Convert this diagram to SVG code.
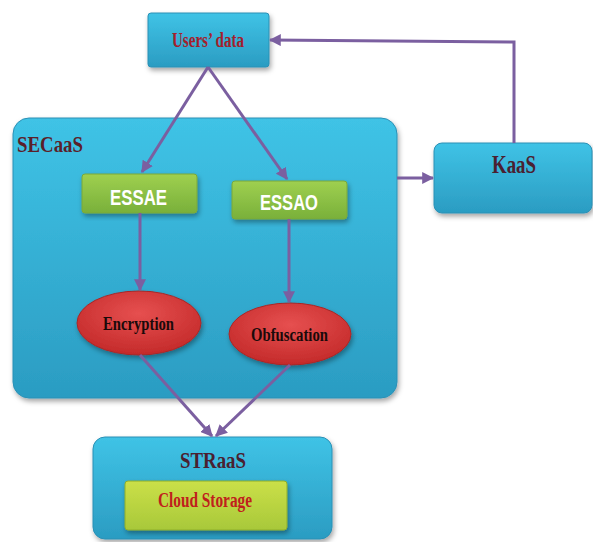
<svg xmlns="http://www.w3.org/2000/svg" width="593" height="542" viewBox="0 0 593 542">
  <style>
    .blue { fill: url(#gBlue); stroke: #2a90b5; stroke-width: 1; filter: url(#shadow); }
    .green { fill: url(#gGreen); stroke: #7aa83a; stroke-width: 1; filter: url(#shadow); }
    .lime { fill: url(#gLime); stroke: #8fae2a; stroke-width: 1; filter: url(#shadow); }
    .red { fill: url(#gRed); stroke: #a82828; stroke-width: 1; filter: url(#shadow); }
    .serif { font-family: "Liberation Serif", "Times New Roman", serif; font-weight: bold; }
    .sans { font-family: "Liberation Sans", Arial, sans-serif; font-weight: bold; fill: #ffffff; }
    .conn { fill: none; stroke: #7b5fa0; stroke-width: 3; marker-end: url(#arrow); }
  </style>
  <defs>
    <linearGradient id="gBlue" x1="0" y1="0" x2="0" y2="1">
      <stop offset="0" stop-color="#3fc3e6"/>
      <stop offset="1" stop-color="#2b9cc2"/>
    </linearGradient>
    <linearGradient id="gGreen" x1="0" y1="0" x2="0" y2="1">
      <stop offset="0" stop-color="#9fd050"/>
      <stop offset="1" stop-color="#79b03a"/>
    </linearGradient>
    <linearGradient id="gLime" x1="0" y1="0" x2="0" y2="1">
      <stop offset="0" stop-color="#cbe048"/>
      <stop offset="1" stop-color="#a8c83a"/>
    </linearGradient>
    <radialGradient id="gRed" cx="0.5" cy="0.35" r="0.65">
      <stop offset="0" stop-color="#e65050"/>
      <stop offset="1" stop-color="#c42a2a"/>
    </radialGradient>
    <filter id="shadow" x="-10%" y="-10%" width="125%" height="130%">
      <feDropShadow dx="1.5" dy="3" stdDeviation="2.5" flood-color="#000" flood-opacity="0.35"/>
    </filter>
    <marker id="arrow" viewBox="0 0 10 10" refX="9" refY="5" markerWidth="4" markerHeight="4" orient="auto" markerUnits="strokeWidth">
      <path d="M0,0 L10,5 L0,10 z" fill="#7b5fa0"/>
    </marker>
  </defs>

  <g id="secaas">
    <rect class="blue" x="13" y="118" width="384" height="280" rx="16"/>
    <text class="serif" x="17" y="152" font-size="24" fill="#5a1f2a" textLength="66" lengthAdjust="spacingAndGlyphs">SECaaS</text>
  </g>

  <g id="users-data">
    <rect class="blue" x="148" y="13" width="121" height="54" rx="3"/>
    <text class="serif" x="172" y="47" font-size="20" fill="#a3202c" textLength="72" lengthAdjust="spacingAndGlyphs">Users’ data</text>
  </g>

  <g id="kaas">
    <rect class="blue" x="434" y="143" width="158" height="70" rx="8"/>
    <text class="serif" x="492" y="173" font-size="26" fill="#4a2030" textLength="44" lengthAdjust="spacingAndGlyphs">KaaS</text>
  </g>

  <g id="essae">
    <rect class="green" x="82" y="174" width="115" height="39" rx="3"/>
    <text class="sans" x="110" y="205" font-size="22" textLength="57" lengthAdjust="spacingAndGlyphs">ESSAE</text>
  </g>

  <g id="essao">
    <rect class="green" x="232" y="181" width="115" height="38" rx="3"/>
    <text class="sans" x="260" y="210" font-size="22" textLength="58" lengthAdjust="spacingAndGlyphs">ESSAO</text>
  </g>

  <g id="encryption">
    <ellipse class="red" cx="139" cy="323" rx="62" ry="32"/>
    <text class="serif" x="103" y="330" font-size="18" fill="#1a0a0a" textLength="71" lengthAdjust="spacingAndGlyphs">Encryption</text>
  </g>

  <g id="obfuscation">
    <ellipse class="red" cx="290" cy="334" rx="61" ry="31"/>
    <text class="serif" x="251" y="341" font-size="18" fill="#1a0a0a" textLength="77" lengthAdjust="spacingAndGlyphs">Obfuscation</text>
  </g>

  <g id="straas">
    <rect class="blue" x="93" y="437" width="239" height="102" rx="12"/>
    <text class="serif" x="180" y="468" font-size="24" fill="#4a2030" textLength="66" lengthAdjust="spacingAndGlyphs">STRaaS</text>
    <rect class="lime" x="125" y="481" width="162" height="49" rx="3"/>
    <text class="serif" x="158" y="507" font-size="20" fill="#c0201c" textLength="94" lengthAdjust="spacingAndGlyphs">Cloud Storage</text>
  </g>

  <g id="connectors">
    <line class="conn" x1="208" y1="67" x2="142" y2="172"/>
    <line class="conn" x1="208" y1="67" x2="287" y2="179"/>
    <line class="conn" x1="140" y1="213" x2="140" y2="290"/>
    <line class="conn" x1="289" y1="219" x2="289" y2="302"/>
    <line class="conn" x1="140" y1="355" x2="212" y2="436"/>
    <line class="conn" x1="290" y1="365" x2="216" y2="436"/>
    <line class="conn" x1="397" y1="178" x2="433" y2="178"/>
    <polyline class="conn" points="514,143 514,42 270,40"/>
  </g>
</svg>
